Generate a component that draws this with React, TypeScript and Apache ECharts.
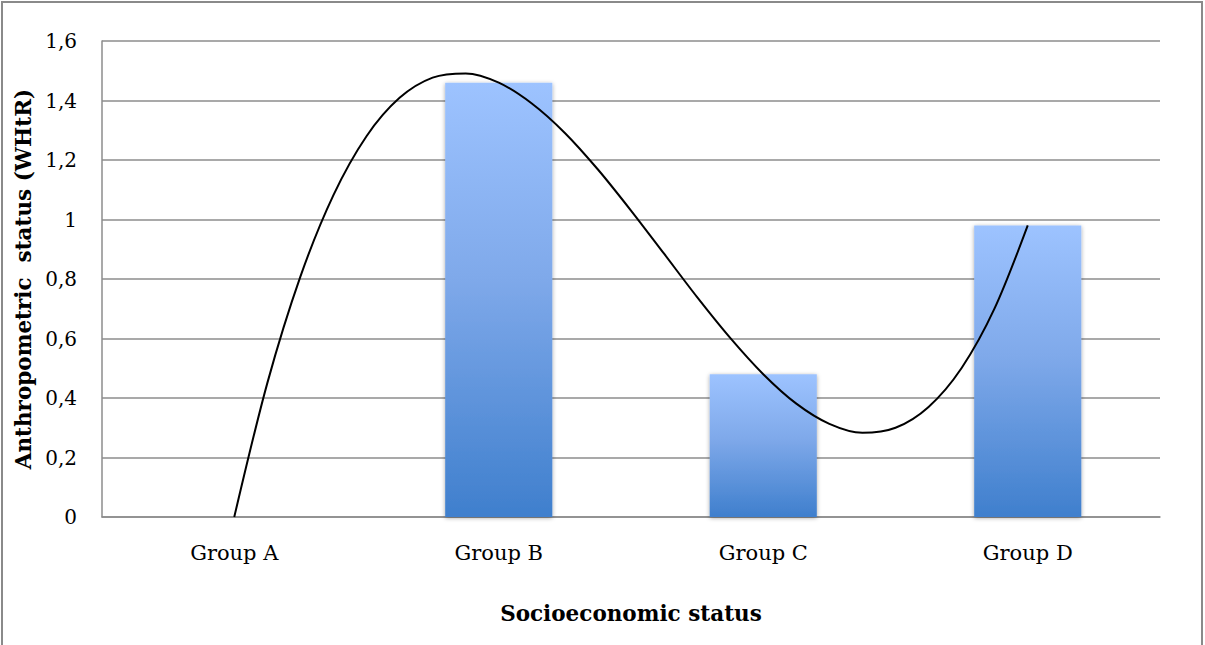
import React, { useEffect, useRef } from "react";
import * as echarts from "echarts";

const categories = ["Group A", "Group B", "Group C", "Group D"];
const barValues = [0, 1.46, 0.48, 0.98];
const yTickLabels = ["0", "0,2", "0,4", "0,6", "0,8", "1", "1,2", "1,4", "1,6"];
// trend curve at eighth-category steps (Group A = 0 ... Group D = 3)
const curveX = [
  0, 0.125, 0.25, 0.375, 0.5, 0.625, 0.75, 0.875, 1, 1.125, 1.25, 1.375, 1.5,
  1.625, 1.75, 1.875, 2, 2.125, 2.25, 2.375, 2.5, 2.625, 2.75, 2.875, 3,
];
const curveY = [
  0, 0.45, 0.808, 1.082, 1.28, 1.409, 1.477, 1.491, 1.46, 1.39, 1.291, 1.168, 1.03,
  0.885, 0.739, 0.602, 0.48, 0.381, 0.313, 0.283, 0.3, 0.37, 0.501, 0.702, 0.98,
];

const FONT = "'DejaVu Serif', serif";

export default function App() {
  const ref = useRef<HTMLDivElement>(null);
  useEffect(() => {
    document.body.style.margin = "0";
    if (!ref.current) return;
    const chart = echarts.init(ref.current, undefined, { renderer: "svg" });
    chart.setOption({
      animation: false,
      backgroundColor: "#ffffff",
      textStyle: { fontFamily: FONT, color: "#000" },
      graphic: [
        {
          type: "rect",
          shape: { x: 2, y: 2, width: 1200, height: 700 },
          style: { fill: "none", stroke: "#8a8a8a", lineWidth: 2 },
          silent: true,
        },
      ],
      grid: { left: 102, right: 45, top: 41, bottom: 128, containLabel: false },
      xAxis: [
        {
          type: "category",
          data: categories,
          boundaryGap: true,
          axisLine: { show: true, onZero: false, lineStyle: { color: "#8c8c8c", width: 1.5 } },
          axisTick: { show: false },
          axisLabel: { fontFamily: FONT, fontSize: 21, color: "#000", margin: 25 },
          name: "Socioeconomic status",
          nameLocation: "middle",
          nameGap: 85,
          nameTextStyle: { fontFamily: FONT, fontSize: 21.5, fontWeight: "bold", color: "#000" },
        },
        {
          type: "value",
          min: -0.5,
          max: 3.5,
          show: false,
        },
      ],
      yAxis: {
        type: "value",
        min: 0,
        max: 1.6,
        interval: 0.2,
        axisLine: { show: true, onZero: false, lineStyle: { color: "#8c8c8c", width: 1.5 } },
        axisTick: { show: false },
        splitLine: { show: true, lineStyle: { color: "#8c8c8c", width: 1.5 } },
        axisLabel: {
          fontFamily: FONT,
          fontSize: 20,
          color: "#000",
          margin: 25,
          formatter: (v: number) => yTickLabels[Math.round(v / 0.2)] ?? String(v),
        },
        name: "Anthropometric  status (WHtR)",
        nameLocation: "middle",
        nameGap: 66,
        nameTextStyle: { fontFamily: FONT, fontSize: 21.5, fontWeight: "bold", color: "#000" },
      },
      series: [
        {
          type: "bar",
          data: barValues,
          barWidth: "40.5%",
          itemStyle: {
            color: new echarts.graphic.LinearGradient(0, 0, 0, 1, [
              { offset: 0, color: "#9dc3ff" },
              { offset: 0.45, color: "#7fa9ea" },
              { offset: 1, color: "#3f7fcd" },
            ]),
            shadowBlur: 4,
            shadowColor: "rgba(0,0,0,0.35)",
            shadowOffsetY: 1,
          },
          z: 2,
        },
        {
          type: "line",
          xAxisIndex: 1,
          data: curveX.map((x, i) => [x, curveY[i]]),
          smooth: 0.3,
          showSymbol: false,
          symbol: "none",
          lineStyle: { color: "#000", width: 2 },
          z: 3,
        },
      ],
    });
    return () => chart.dispose();
  }, []);
  return <div ref={ref} style={{ width: 1205, height: 645 }} />;
}
